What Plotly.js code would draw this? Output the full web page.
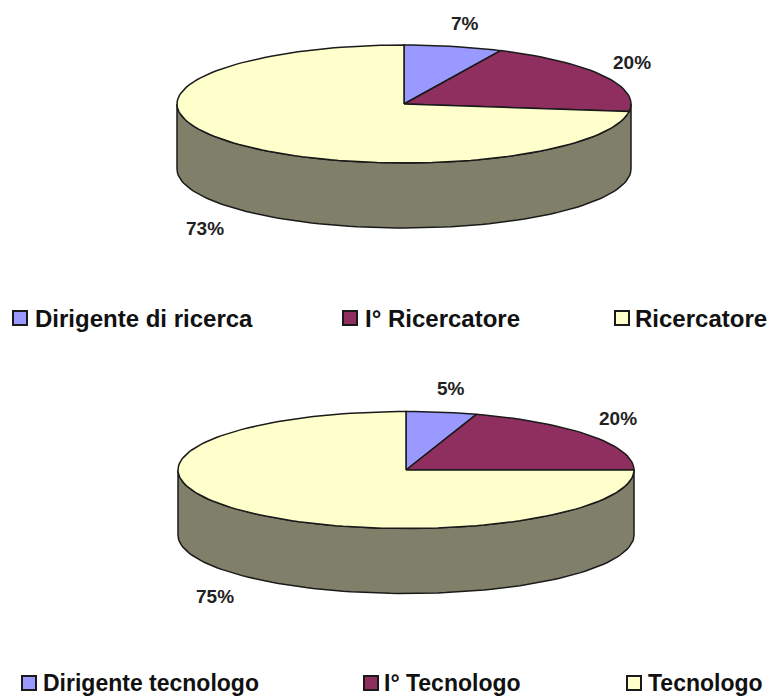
<!DOCTYPE html>
<html>
<head>
<meta charset="utf-8">
<script src="https://cdn.plot.ly/plotly-3.0.1.min.js"></script>
<style>html,body{margin:0;padding:0;background:#fff}#c{width:773px;height:697px}</style>
</head>
<body>
<div id="c"></div>
<script>
const labelsRicerca = ['Dirigente di ricerca', 'I° Ricercatore', 'Ricercatore'];
const valuesRicerca = [7, 20, 73];
const labelsTecnologo = ['Dirigente tecnologo', 'I° Tecnologo', 'Tecnologo'];
const valuesTecnologo = [5, 20, 75];
const sliceColors = ['#9999ff', '#8f2f5f', '#ffffcc'];
const wallColor = '#80806a';
const lineColor = '#1a1a1a';

const FONT = '"Liberation Sans", Arial, sans-serif';
const traces = [], annotations = [];

function arc(g, a, b) {
  const xs = [], ys = [], n = Math.max(2, Math.ceil(Math.abs(b - a) / 2));
  for (let i = 0; i <= n; i++) {
    const t = (a + (b - a) * i / n) * Math.PI / 180;
    xs.push(g.cx + g.rx * Math.sin(t));
    ys.push(g.cy - g.ry * Math.cos(t));
  }
  return [xs, ys];
}

function poly(xs, ys, fill) {
  traces.push({
    type: 'scatter', mode: 'lines', x: xs, y: ys, fill: 'toself', fillcolor: fill,
    line: {color: lineColor, width: 1.5}, hoverinfo: 'skip', showlegend: false
  });
}

function pie3d(g, labels, values, markerX, textX, legendY, legendSize, labelPos) {
  const [wx, wy] = arc(g, 90, 270);
  poly(wx.concat(wx.slice().reverse(), [wx[0]]),
       wy.concat(wy.map(v => v + g.depth).reverse(), [wy[0]]),
       wallColor);
  let a = 0;
  const total = values.reduce((s, v) => s + v, 0);
  values.forEach((v, i) => {
    const b = a + v / total * 360;
    const [ax, ay] = arc(g, a, b);
    poly([g.cx].concat(ax, [g.cx]), [g.cy].concat(ay, [g.cy]), sliceColors[i]);
    annotations.push({
      x: labelPos[i][0], y: labelPos[i][1], xref: 'x', yref: 'y', showarrow: false,
      text: Math.round(v / total * 100) + '%',
      font: {family: FONT, size: 19, color: '#222', weight: 'bold'}
    });
    traces.push({
      type: 'scatter', mode: 'markers', x: [markerX[i]], y: [legendY],
      marker: {symbol: 'square', size: 14, color: sliceColors[i], line: {color: '#1a1a1a', width: 2}},
      hoverinfo: 'skip', showlegend: false
    });
    annotations.push({
      x: textX[i], y: legendY, xref: 'x', yref: 'y', xanchor: 'left', showarrow: false,
      text: labels[i],
      font: {family: FONT, size: legendSize, color: '#111', weight: 'bold'}
    });
    a = b;
  });
}

pie3d({cx: 404, cy: 104, rx: 227, ry: 59, depth: 65}, labelsRicerca, valuesRicerca,
      [20, 350, 622], [33, 363, 633], 318, 24, [[465, 23], [632, 62], [205, 228]]);
pie3d({cx: 406, cy: 470, rx: 228, ry: 58.5, depth: 65}, labelsTecnologo, valuesTecnologo,
      [29, 371, 634], [41, 382, 646], 683, 23, [[451, 388], [618, 418], [215, 596]]);

Plotly.newPlot('c', traces, {
  width: 773, height: 697, margin: {l: 0, r: 0, t: 0, b: 0},
  paper_bgcolor: '#fff', plot_bgcolor: '#fff',
  xaxis: {range: [0, 773], visible: false, fixedrange: true},
  yaxis: {range: [697, 0], visible: false, fixedrange: true},
  annotations, showlegend: false
}, {displayModeBar: false, staticPlot: true});
</script>
</body>
</html>
